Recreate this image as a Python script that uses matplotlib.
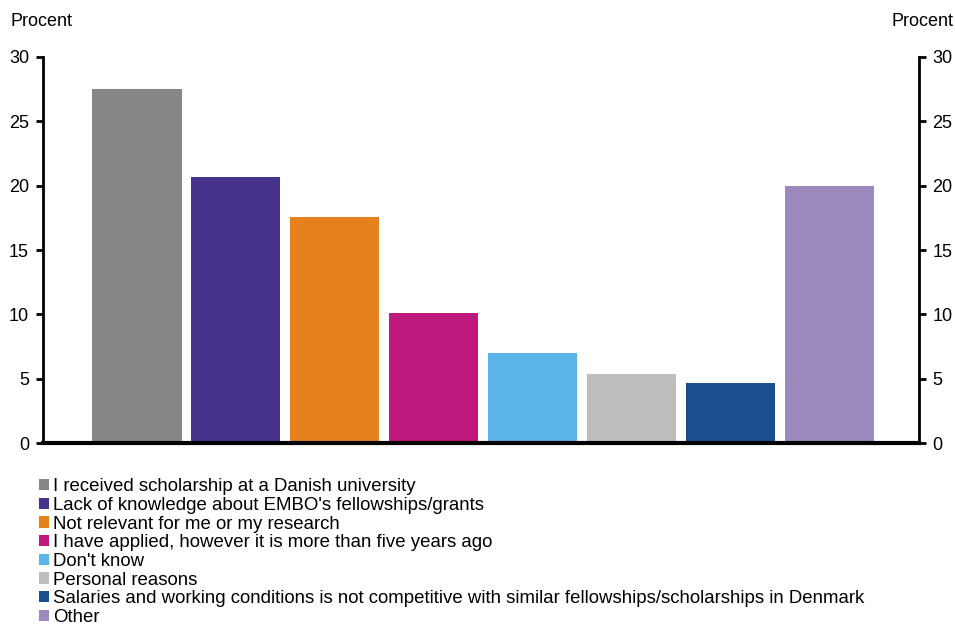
import matplotlib
matplotlib.use("Agg")
import matplotlib.pyplot as plt
from matplotlib.patches import Patch

plt.rcParams['font.family'] = ['Liberation Sans', 'DejaVu Sans']

categories = [
    "I received scholarship at a Danish university",
    "Lack of knowledge about EMBO's fellowships/grants",
    "Not relevant for me or my research",
    "I have applied, however it is more than five years ago",
    "Don't know",
    "Personal reasons",
    "Salaries and working conditions is not competitive with similar fellowships/scholarships in Denmark",
    "Other",
]
values = [27.5, 20.7, 17.6, 10.1, 7.0, 5.4, 4.7, 20.0]
colors = ["#878787", "#46328a", "#e6821e", "#c0197d", "#5ab4e6",
          "#bebebe", "#1a4f8f", "#9c89bd"]
yticks = [0, 5, 10, 15, 20, 25, 30]

fig = plt.figure(figsize=(9.55, 6.26), dpi=100)
ax = fig.add_axes([0.045, 0.292, 0.917, 0.617])

x = list(range(len(values)))
ax.bar(x, values, width=0.9, color=colors)
ax.set_xlim(-0.95, 7.90)
ax.set_ylim(0, 30)
ax.set_yticks(yticks)
ax.set_xticks([])

ax2 = ax.twinx()
ax2.set_ylim(0, 30)
ax2.set_yticks(yticks)

for a in (ax, ax2):
    a.spines['top'].set_visible(False)
    a.tick_params(axis='y', direction='out', length=5, width=2, labelsize=13, pad=5)
ax.spines['right'].set_visible(False)
ax2.spines['left'].set_visible(False)
ax.spines['left'].set_linewidth(2)
ax2.spines['right'].set_linewidth(2)
ax.spines['bottom'].set_linewidth(3)
ax2.spines['bottom'].set_visible(False)

fig.text(0.011, 0.965, "Procent", fontsize=13, ha='left', va='center')
fig.text(0.998, 0.965, "Procent", fontsize=13, ha='right', va='center')

handles = [Patch(facecolor=c, edgecolor='none') for c in colors]
fig.legend(handles, categories, loc='upper left', bbox_to_anchor=(0.041, 0.236),
           frameon=False, fontsize=13.4, handlelength=0.55, handleheight=0.55,
           handletextpad=0.18, labelspacing=0.09, borderpad=0, borderaxespad=0)

fig.savefig("out.png", dpi=100)
